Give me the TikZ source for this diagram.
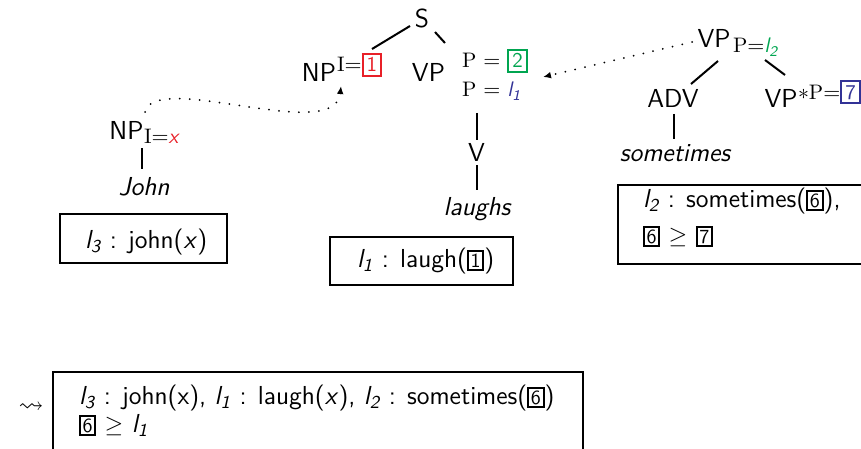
\documentclass[tikz,border=0pt]{standalone}
\usepackage{amssymb}
\usetikzlibrary{arrows.meta}
\renewcommand\familydefault{\sfdefault}
\definecolor{pred}{RGB}{232,32,40}
\definecolor{pgreen}{RGB}{0,165,80}
\definecolor{pblue}{RGB}{50,50,150}
\newcommand\bxs[2]{{\fontsize{10}{10}\selectfont\setlength\fboxsep{0.8pt}\setlength\fboxrule{1pt}\fcolorbox{#1}{white}{\textcolor{#1}{#2}}}}
\newcommand\bxl[2]{{\fontsize{10.5}{10.5}\selectfont\sffamily\setlength\fboxsep{1.5pt}\setlength\fboxrule{1.05pt}\fcolorbox{#1}{white}{\textcolor{#1}{#2}}}}
\newcommand\lab[1]{{\sffamily\itshape l\textsubscript{#1}}}
\begin{document}
\begin{tikzpicture}[x=0.5pt,y=-0.5pt,
  every node/.style={inner sep=0pt, outer sep=0pt},
  lbl/.style={anchor=base, font=\fontsize{13}{15}\selectfont},
  ann/.style={anchor=base west, font=\fontsize{10.5}{11}\selectfont\rmfamily},
  txt/.style={anchor=base west, font=\fontsize{13}{15}\selectfont},
  tree/.style={line width=1pt},
  frame/.style={draw, line width=1.1pt},
  dots/.style={line width=1pt, line cap=round, dash pattern=on 0pt off 5pt, -{Latex[length=4pt,width=3.4pt]}}]
\useasboundingbox (0,0) rectangle (861,449);
\clip (0,0) rectangle (861,449);

% middle tree
\node[lbl] (S) at (422,28) {S};
\node[lbl] (NPa) at (319,82) {NP};
\node[ann] (supa) at (337,72) {I$=$\bxl{pred}{1}};
\node[lbl] (VP) at (428.5,82) {VP};
\node[ann] (ann1) at (462,68) {P $=$ \bxl{pgreen}{2}};
\node[ann] (ann2) at (462,97) {P $=$ \textcolor{pblue}{\lab{1}}};
\node[lbl] (V) at (476.5,161) {V};
\node[lbl] (laughs) at (477,215) {\itshape laughs};

% left tree
\node[lbl] (NPb) at (126.5,140) {NP};
\node[ann] (subb) at (144,143) {I$=$\textcolor{pred}{\sffamily\itshape x}};
\node[lbl] (John) at (144,195) {\itshape John};

% right tree
\node[lbl] (VP2) at (714,48) {VP};
\node[ann] (sub2) at (733,53) {P$=$\textcolor{pgreen}{\lab{2}}};
\node[lbl] (ADV) at (673,107) {ADV};
\node[lbl] (VPs) at (781,107) {VP};
\node[ann] (sups) at (798,99) {$\ast$P$=$\bxl{pblue}{7}};
\node[lbl] (sometimes) at (675,162) {\itshape sometimes};

% boxes
\node[frame, minimum width=83.5pt, minimum height=24.5pt] (b3) at (143.5,238.5) {};
\node[txt] (t3) at (85,248) {\lab{3} : john(\textit{x})};
\node[frame, minimum width=91.5pt, minimum height=24pt] (b1) at (421.5,261) {};
\node[txt] (t1) at (357,267) {\lab{1} : laugh(\bxs{black}{1})};
\node[frame, minimum width=128.5pt, minimum height=39.5pt] (b2) at (746.5,224.5) {};
\node[txt] (t2a) at (643,207) {\lab{2} : sometimes(\bxs{black}{6}),};
\node[txt] (t2b) at (643,243) {\bxs{black}{6} $\geq$ \bxs{black}{7}};
\node[frame, minimum width=265pt, minimum height=54pt] (b4) at (318,426) {};
\node[txt] (t4a) at (79,404) {\lab{3} : john(x), \lab{1} : laugh(\textit{x}), \lab{2} : sometimes(\bxs{black}{6})};
\node[txt] (t4b) at (79,432) {\bxs{black}{6} $\geq$ \lab{1}};
\node[font=\fontsize{12.5}{12.5}\selectfont] (lead) at (31,408) {$\leadsto$};

% tree edges
\draw[tree] ([shift={(-12,-2)}]S.base) -- ([shift={(53,-33)}]NPa.base);
\draw[tree] ([shift={(13,4)}]S.base) -- ([shift={(16.5,-39)}]VP.base);
\draw[tree] ([shift={(15,16)}]ann2.base west) -- ([shift={(0.5,-21)}]V.base);
\draw[tree] ([shift={(0.5,4)}]V.base) -- ([shift={(0,-25)}]laughs.base);
\draw[tree] ([shift={(15.5,8)}]NPb.base) -- ([shift={(-2,-26)}]John.base);
\draw[tree] ([shift={(4,13)}]VP2.base) -- ([shift={(18,-23)}]ADV.base);
\draw[tree] ([shift={(51,12)}]VP2.base) -- ([shift={(4,-32)}]VPs.base);
\draw[tree] ([shift={(1,7)}]ADV.base) -- ([shift={(-1,-23)}]sometimes.base);

% dotted arrows
\draw[dots] ([shift={(18.5,-28)}]NPb.base) .. controls +(10,-42) and +(-6,59) .. ([shift={(22,4)}]NPa.base);
\draw[dots] ([shift={(-22,-6)}]VP2.base) -- ([shift={(81,9)}]ann1.base west);
\end{tikzpicture}
\end{document}
